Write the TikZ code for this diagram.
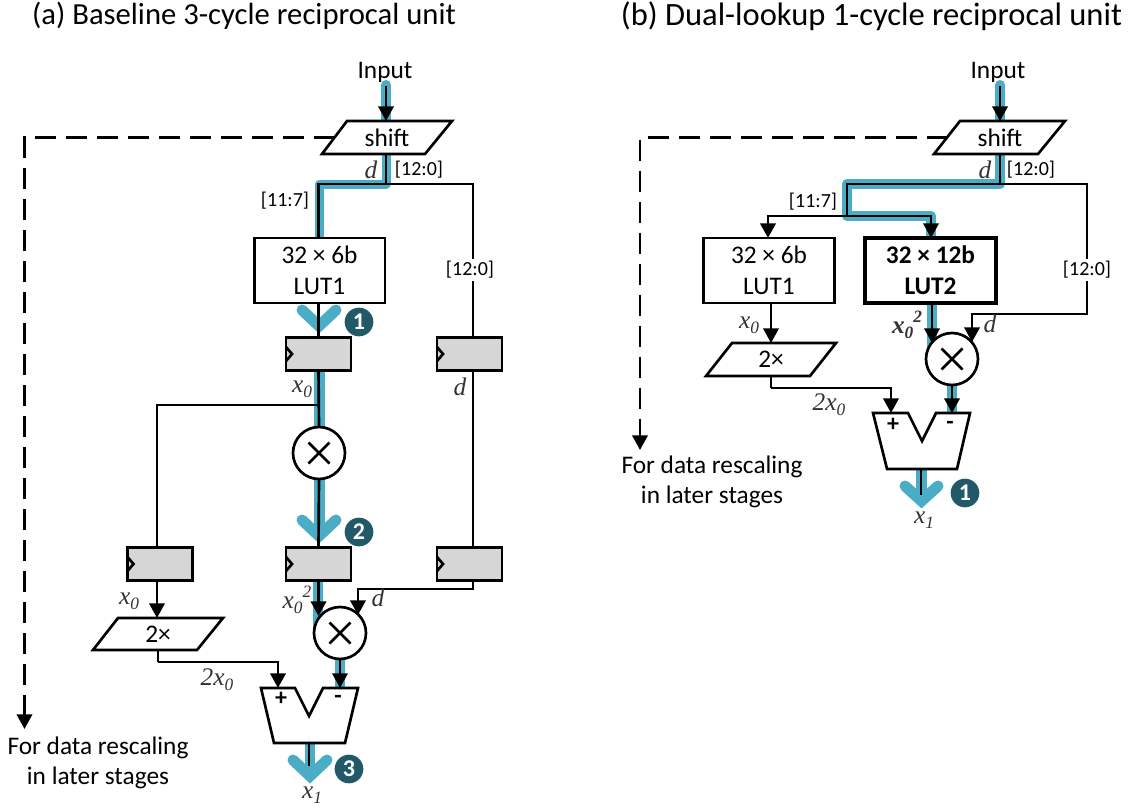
\documentclass[tikz,border=0pt]{standalone}
\usepackage{fontspec}
\setmainfont{Carlito}
\newfontfamily\mathlike{Liberation Serif}
\usetikzlibrary{arrows.meta,backgrounds,calc}
\newcommand{\subs}[1]{\raisebox{-4pt}{\fontsize{13pt}{13pt}\selectfont #1}}
\newcommand{\sups}[1]{\raisebox{8pt}{\fontsize{13pt}{13pt}\selectfont #1}}
\newcommand{\xzero}{{\mathlike\itshape x\subs{0}}}
\newcommand{\xsq}{{\mathlike\itshape x\subs{0}\sups{2}}}
\newcommand{\xsqb}{{\mathlike\bfseries\itshape x\subs{0}\sups{2}}}
\newcommand{\xone}{{\mathlike\itshape x\subs{1}}}
\newcommand{\twox}{{\mathlike\itshape 2x\subs{0}}}
\newcommand{\dd}{{\mathlike\itshape d}}
\definecolor{bluepath}{HTML}{4BACC6}
\definecolor{badgeblue}{HTML}{215968}
\tikzset{
  px/.style={x=0.75pt,y=-0.75pt},
  every node/.style={font=\fontsize{19pt}{22pt}\selectfont,outer sep=0pt,inner sep=0pt},
  wire/.style={line width=2pt,line join=miter},
  arrowwire/.style={wire,-{Triangle[length=11pt,width=11.5pt]}},
  dashwire/.style={wire,dash pattern=on 15.75pt off 7.5pt},
  dasharrow/.style={dashwire,-{Triangle[length=11pt,width=11.5pt]}},
  bluewire/.style={draw=bluepath,line width=7.5pt,line join=round,line cap=round},
  chevron/.style={draw=bluepath,line width=8.25pt,line join=miter,line cap=round},
  lutbox/.style={draw,line width=2pt,fill=white,minimum width=98pt,minimum height=48.75pt,align=center},
  lutbold/.style={lutbox,line width=2.7pt,font=\fontsize{19pt}{22pt}\selectfont\bfseries},
  regbox/.style={draw,line width=2pt,fill=black!16,minimum width=48.75pt,minimum height=24.75pt},
  mul/.style={circle,draw,line width=2pt,fill=white,minimum size=39pt,
    path picture={\draw[line width=2pt] (path picture bounding box.center) +(-10.5,-10.5) -- +(10.5,10.5) +(-10.5,10.5) -- +(10.5,-10.5);}},
  para/.style={minimum width=78pt,minimum height=24.75pt},
  paraoutline/.style={draw,line width=2pt,fill=white,line join=miter},
  subfig/.style={draw,line width=2pt,fill=white,line join=miter},
  badge/.style={circle,fill=badgeblue,text=white,minimum size=21.5pt,font=\fontsize{18pt}{18pt}\selectfont\bfseries},
  title/.style={font=\fontsize{23pt}{27pt}\selectfont},
  titlewide/.style={font=\fontsize{24.4pt}{28pt}\selectfont},
  tag/.style={font=\fontsize{15pt}{18pt}\selectfont},
  tagw/.style={tag,fill=white,inner sep=1.5pt},
  ital/.style={font=\fontsize{19pt}{22pt}\selectfont,text=black!80},
  sign/.style={font=\fontsize{18pt}{18pt}\selectfont\bfseries},
  note/.style={font=\fontsize{19pt}{22pt}\selectfont,align=center},
}
\begin{document}
\begin{tikzpicture}[px]
\useasboundingbox (0,0) rectangle (1135,808);
% ---------------- panel (a) ----------------
\node[title] (ta) at (244,16) {(a) Baseline 3-cycle reciprocal unit};
\node (ina) at (385,72) {Input};
\draw[paraoutline] (347,121) -- (452,121) -- (425,154) -- (322,154) -- cycle;
\node[para] (sa) at (387,137.5) {shift};
\node[lutbox] (la) at (319.5,270.5) {32 × 6b\\[1pt]LUT1};
\node[regbox] (r1) at (318.5,354) {};
\node[regbox] (r2) at (469.5,354) {};
\node[mul] (m1) at (319,453) {};
\node[regbox] (r3) at (160,564) {};
\node[regbox] (r4) at (318.5,564) {};
\node[regbox] (r5) at (469.5,564) {};
\draw[paraoutline] (118,618) -- (223,618) -- (197,650) -- (93,650) -- cycle;
\node[para] (da) at (158,634) {2×};
\node[mul] (m2) at (340,633) {};
\draw[subfig] (261,688) -- (295,688) -- (309,716) -- (323,688) -- (358,688) -- (345,743) -- (274,743) -- cycle;
\node[sign] (pa) at (281,699) {+};
\node[sign] (ma) at (338,699) {-};
\coordinate (sap) at (278,688);
\coordinate (sam) at (340,688);
\coordinate (sao) at (309,743);
\coordinate (jae) at (309,766);
\coordinate (ja) at (386,184);
\coordinate (jx) at (319,405);
\node[badge] (b1) at (359,322) {1};
\node[badge] (b2) at (359,532) {2};
\node[badge] (b3) at (349,769) {3};
\node[note] (na) at (98,763) {For data rescaling\\in later stages};
\coordinate (dae) at (24.5,729);
% wires
\draw[arrowwire] (386,86) -- (sa.north -| 386,0);
\draw[wire] (386,154) -- (ja);
\draw[wire] (ja) -| (la.north -| r1.north);
\draw[wire] (ja) -| (473,337);
\draw[wire] (la.south -| r1.north) -- (r1.north);
\draw[wire] (r1.south) -- (m1.north);
\draw[wire] (jx) -| (157,547);
\draw[wire] (m1.south) -- (r4.north);
\draw[wire] (473,370) -- (473,547);
\draw[arrowwire] (157,580.5) -- (157,618);
\draw[wire] (158,650) -- (158,662);
\draw[arrowwire] (158,662) -| (sap);
\draw[arrowwire] (r4.south) -- (318.5,616);
\draw[arrowwire] (473,580.5) -- (473,589) -| (358,615);
\draw[arrowwire] (m2.south) -- (sam);
\draw[wire] (sao) -- (jae);
\draw[dasharrow] (sa.west) -| (dae);
\node[ital] (xa1) at (302,389) {\xzero};
\node[ital] (da1) at (460,387) {\dd};
\node[ital] (xa2) at (129,601) {\xzero};
\node[ital] (xa3) at (297,600) {\xsq};
\node[ital] (da2) at (378,598) {\dd};
\node[ital] (xa4) at (217,680) {\twox};
\node[ital] (xa5) at (312,795) {\xone};
\node[ital] (da0) at (371,170) {\dd};
\node[tag] (ta1) at (419,170) {[12:0]};
\node[tag] (ta2) at (285,201) {[11:7]};
\node[tagw] (ta3) at (470,270) {[12:0]};
% ---------------- panel (b) ----------------
\node[titlewide] (tb) at (871.5,16) {(b) Dual-lookup 1-cycle reciprocal unit};
\node (inb) at (998,72) {Input};
\draw[paraoutline] (960,121) -- (1065,121) -- (1038,154) -- (934,154) -- cycle;
\node[para] (sb) at (1000,137.5) {shift};
\node[lutbox] (lb1) at (769,270.5) {32 × 6b\\[1pt]LUT1};
\node[lutbold] (lb2) at (930.5,270.5) {32 × 12b\\[1pt]LUT2};
\node[mul] (m3) at (952,359) {};
\draw[paraoutline] (732,343) -- (836,343) -- (810,376) -- (706,376) -- cycle;
\node[para] (db) at (771,359.5) {2×};
\draw[subfig] (873,413) -- (908,413) -- (922,441) -- (936,413) -- (970,413) -- (957,469) -- (887,469) -- cycle;
\node[sign] (pb) at (893,425) {+};
\node[sign] (mb) at (950,425) {-};
\coordinate (sbp) at (891,413);
\coordinate (sbm) at (952,413);
\coordinate (sbo) at (921,469);
\coordinate (jbe) at (921,495);
\coordinate (jb) at (1000,184);
\coordinate (jc) at (847,184);
\coordinate (jd) at (847,216);
\node[badge] (b4) at (965,493) {1};
\node[note] (nb) at (712,482) {For data rescaling\\in later stages};
\coordinate (dbe) at (640,450);
\draw[arrowwire] (1000,86) -- (1000,121);
\draw[wire] (1000,154) -- (jb);
\draw[wire] (jb) -- (jc) -- (jd);
\draw[arrowwire] (jd) -| (768,238);
\draw[arrowwire] (jd) -| (931,238);
\draw[arrowwire] (jb) -- (1087,184) -- (1087,314) -| (972,342);
\draw[arrowwire] (771,303) -- (771,343);
\draw[arrowwire] (932,303) -- (932,343);
\draw[wire] (771,376) -- (771,388);
\draw[arrowwire] (771,388) -| (sbp);
\draw[arrowwire] (m3.south) -- (sbm);
\draw[wire] (sbo) -- (jbe);
\draw[dasharrow] (sb.west) -| (dbe);
\node[ital] (db0) at (985,170) {\dd};
\node[tag] (tb1) at (1031,170) {[12:0]};
\node[tag] (tb2) at (813,202) {[11:7]};
\node[tagw] (tb3) at (1087,270) {[12:0]};
\node[ital] (xb1) at (749,325) {\xzero};
\node[ital] (xb2) at (907,325) {\xsqb};
\node[ital] (db1) at (990,324) {\dd};
\node[ital] (xb3) at (829,405) {\twox};
\node[ital] (xb4) at (924,520) {\xone};
% ---------------- highlight path ----------------
\begin{scope}[on background layer]
\draw[bluewire,line width=7.5pt] (386,85) -- (386,121);
\draw[bluewire,line width=6.75pt] (386,154) -- (ja) -- (319,184) -- (319,238);
\draw[chevron] (302,310) -- (319,326) -- (336,310);
\draw[bluewire,line cap=butt,line width=8.25pt] (319,370) -- (319,530);
\draw[chevron] (302,520) -- (319,536) -- (336,520);
\draw[bluewire,line cap=butt,line width=8pt] (318,580) -- (318,630);
\draw[bluewire,line cap=butt,line width=8pt] (340,655) -- (340,688);
\draw[bluewire,line cap=butt,line width=8pt] (310,743) -- (310,775);
\draw[chevron] (293,760) -- (310,776) -- (327,760);
\draw[bluewire] (1000,85) -- (1000,121);
\draw[bluewire,line width=8pt] (1000,154) -- (jb) -- (jc) -- (jd) -- (931,216) -- (931,238);
\draw[bluewire,line cap=butt,line width=8pt] (932,303) -- (932,355);
\draw[bluewire,line cap=butt,line width=8pt] (952,380) -- (952,413);
\draw[bluewire,line cap=butt,line width=8pt] (921.5,469) -- (921.5,500);
\draw[chevron] (905,486) -- (921.5,501) -- (938,486);
\end{scope}
% clock marks
\foreach \rn in {r1,r2,r3,r4,r5}
  \draw[line width=2pt] (\rn.west) ++(0,-7) -- ++(6,7) -- ++(-6,7);
\end{tikzpicture}
\end{document}
